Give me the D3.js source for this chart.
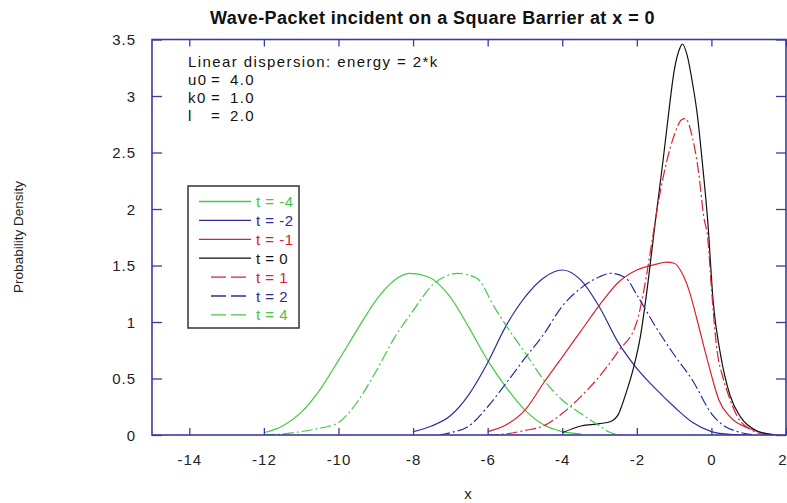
<!DOCTYPE html>
<html>
<head>
<meta charset="utf-8">
<script src="https://cdn.jsdelivr.net/npm/d3@7"></script>
<style>
  html, body { margin: 0; padding: 0; background: #fff; }
  svg { display: block; font-family: "Liberation Sans", Arial, sans-serif; }
</style>
</head>
<body>
<svg id="chart" width="787" height="503"></svg>
<script>
// Probability density snapshots of a wave packet hitting a square barrier at x = 0.
// Each series is a list of [x, density] samples.
const seriesLabels = ["t = -4", "t = -2", "t = -1", "t = 0", "t = 1", "t = 2", "t = 4"];
const seriesColors = ["#44c844", "#2c2c9c", "#dc2030", "#111111", "#dc2030", "#2c2c9c", "#44c844"];
const seriesDashed = [false, false, false, false, true, true, true];

const tMinus4 = [[-12.0,0.02],[-11.5,0.08],[-11.0,0.20],[-10.5,0.40],[-10.0,0.66],[-9.5,0.93],[-9.0,1.19],[-8.5,1.37],[-8.1,1.43],[-7.6,1.40],[-7.0,1.22],[-6.5,0.95],[-6.0,0.66],[-5.5,0.42],[-5.0,0.22],[-4.5,0.09],[-4.0,0.03],[-3.5,0.01]];
const tMinus2 = [[-8.0,0.03],[-7.5,0.08],[-7.0,0.17],[-6.5,0.36],[-6.0,0.64],[-5.5,0.97],[-5.0,1.22],[-4.5,1.39],[-4.0,1.46],[-3.5,1.37],[-3.0,1.13],[-2.5,0.82],[-2.0,0.59],[-1.5,0.41],[-1.0,0.25],[-0.5,0.11],[0.0,0.03],[0.5,0.005],[1.0,0.0]];
const tMinus1 = [[-6.0,0.03],[-5.5,0.09],[-5.0,0.22],[-4.5,0.46],[-4.0,0.69],[-3.5,0.92],[-3.0,1.15],[-2.5,1.35],[-2.0,1.46],[-1.5,1.51],[-1.2,1.53],[-1.0,1.52],[-0.8,1.44],[-0.6,1.28],[-0.4,1.04],[-0.2,0.78],[0.0,0.53],[0.2,0.31],[0.5,0.16],[1.0,0.06],[1.5,0.01],[1.8,0.0]];
const tZero   = [[-4.0,0.02],[-3.5,0.08],[-3.0,0.10],[-2.7,0.12],[-2.5,0.18],[-2.3,0.36],[-2.1,0.58],[-1.9,0.88],[-1.7,1.35],[-1.5,1.90],[-1.3,2.42],[-1.15,2.84],[-1.0,3.22],[-0.85,3.42],[-0.78,3.46],[-0.65,3.36],[-0.5,3.10],[-0.38,2.84],[-0.24,2.40],[-0.1,1.90],[0.05,1.17],[0.24,0.72],[0.5,0.35],[0.78,0.16],[1.2,0.04],[1.7,0.0]];
const tPlus1  = [[-6.0,0.0],[-5.5,0.01],[-5.0,0.04],[-4.5,0.08],[-4.0,0.19],[-3.5,0.34],[-3.0,0.52],[-2.5,0.74],[-2.0,1.0],[-1.8,1.3],[-1.6,1.7],[-1.4,2.1],[-1.2,2.42],[-1.0,2.65],[-0.8,2.79],[-0.7,2.80],[-0.5,2.62],[-0.35,2.34],[-0.2,1.92],[-0.1,1.75],[0.0,1.3],[0.15,0.75],[0.3,0.52],[0.45,0.36],[0.7,0.16],[1.1,0.04],[1.5,0.0]];
const tPlus2  = [[-7.3,0.0],[-7.0,0.02],[-6.5,0.08],[-6.0,0.25],[-5.5,0.46],[-5.0,0.68],[-4.5,0.89],[-4.0,1.14],[-3.5,1.30],[-3.0,1.40],[-2.7,1.43],[-2.3,1.39],[-2.0,1.24],[-1.5,0.96],[-1.0,0.71],[-0.5,0.48],[0.0,0.19],[0.3,0.09],[0.7,0.03],[1.2,0.0]];
const tPlus4  = [[-12.0,0.0],[-11.5,0.01],[-11.0,0.03],[-10.5,0.06],[-10.0,0.11],[-9.5,0.29],[-9.0,0.56],[-8.5,0.86],[-8.0,1.10],[-7.5,1.32],[-7.0,1.42],[-6.8,1.43],[-6.3,1.39],[-5.8,1.12],[-5.3,0.87],[-5.0,0.73],[-4.5,0.49],[-4.0,0.31],[-3.5,0.19],[-3.0,0.08],[-2.7,0.02],[-2.4,0.0]];

const seriesData = [tMinus4, tMinus2, tMinus1, tZero, tPlus1, tPlus2, tPlus4];

const xTicks = [-14, -12, -10, -8, -6, -4, -2, 0, 2];
const yTicks = [0, 0.5, 1, 1.5, 2, 2.5, 3, 3.5];

const titleText = "Wave-Packet incident on a Square Barrier at x = 0";
const xLabel = "x";
const yLabel = "Probability Density";
const noteHeader = "Linear dispersion: energy = 2*k";
const noteNames = ["u0", "k0", "l"];
const noteValues = ["4.0", "1.0", "2.0"];

const frameColor = "#3a3aa8";
const textColor = "#222";

const svg = d3.select("#chart");

const x = d3.scaleLinear().domain([-15, 2]).range([152, 786]);
const y = d3.scaleLinear().domain([0, 3.5]).range([435, 39.5]);

// Title
svg.append("text")
  .attr("x", 210).attr("y", 24)
  .attr("font-size", 18).attr("font-weight", "bold")
  .attr("letter-spacing", 0.45)
  .attr("fill", "#111")
  .text(titleText);

// Clip region for curves
svg.append("defs").append("clipPath").attr("id", "plotClip")
  .append("rect")
  .attr("x", x.range()[0]).attr("y", y.range()[1])
  .attr("width", x.range()[1] - x.range()[0])
  .attr("height", y.range()[0] - y.range()[1]);

// Curves
const line = d3.line()
  .x(d => x(d[0]))
  .y(d => y(d[1]))
  .curve(d3.curveMonotoneX);

svg.append("g").attr("clip-path", "url(#plotClip)")
  .selectAll("path")
  .data(seriesData)
  .join("path")
  .attr("d", line)
  .attr("fill", "none")
  .attr("stroke", (d, i) => seriesColors[i])
  .attr("stroke-width", 1.2)
  .attr("stroke-dasharray", (d, i) => seriesDashed[i] ? "11,3,2,3" : null);

// Axes: inward ticks on all four sides
const axisStyle = g => {
  g.select(".domain").remove();
  g.selectAll(".tick line").attr("stroke", frameColor).attr("stroke-width", 1.3);
};

const gBottom = svg.append("g")
  .attr("transform", `translate(0,${y(0)})`)
  .call(d3.axisBottom(x).tickValues(xTicks).tickSize(-7).tickFormat(d => String(d)))
  .call(axisStyle);
gBottom.selectAll(".tick text")
  .attr("y", 30).attr("dy", null)
  .attr("font-size", 15).attr("letter-spacing", 1)
  .attr("font-family", "Liberation Sans, Arial, sans-serif")
  .attr("fill", textColor);
// keep the last label inside the page edge
gBottom.selectAll(".tick text").filter(d => d === xTicks[xTicks.length - 1])
  .attr("text-anchor", "end").attr("x", 1);

svg.append("g")
  .attr("transform", `translate(0,${y(3.5)})`)
  .call(d3.axisTop(x).tickValues(xTicks).tickSize(-7).tickFormat(""))
  .call(axisStyle);

const gLeft = svg.append("g")
  .attr("transform", `translate(${x(-15)},0)`)
  .call(d3.axisLeft(y).tickValues(yTicks).tickSize(-10).tickFormat(d => String(d)))
  .call(axisStyle);
gLeft.selectAll(".tick text")
  .attr("x", -16).attr("dy", 5)
  .attr("font-size", 15).attr("letter-spacing", 1)
  .attr("font-family", "Liberation Sans, Arial, sans-serif")
  .attr("fill", textColor);

svg.append("g")
  .attr("transform", `translate(${x(2)},0)`)
  .call(d3.axisRight(y).tickValues(yTicks).tickSize(-10).tickFormat(""))
  .call(axisStyle);

// Plot frame
svg.append("rect")
  .attr("x", x(-15)).attr("y", y(3.5))
  .attr("width", x(2) - x(-15)).attr("height", y(0) - y(3.5))
  .attr("fill", "none").attr("stroke", frameColor).attr("stroke-width", 1.6);

// Axis titles
svg.append("text")
  .attr("x", 468).attr("y", 499)
  .attr("text-anchor", "middle")
  .attr("font-size", 15).attr("fill", textColor)
  .text(xLabel);

svg.append("text")
  .attr("transform", "translate(23,237) rotate(-90)")
  .attr("text-anchor", "middle")
  .attr("font-size", 13.5).attr("fill", textColor)
  .text(yLabel);

// Parameter note
const note = svg.append("g").attr("font-size", 15).attr("fill", "#111").attr("letter-spacing", 1.4);
note.append("text").attr("x", 188).attr("y", 67).text(noteHeader);
noteNames.forEach((n, i) => {
  const yy = 85 + i * 17.8;
  note.append("text").attr("x", 188).attr("y", yy).text(n);
  note.append("text").attr("x", 211).attr("y", yy).text("=");
  note.append("text").attr("x", 230).attr("y", yy).text(noteValues[i]);
});

// Legend
const legend = svg.append("g");
legend.append("rect")
  .attr("x", 188).attr("y", 186).attr("width", 111).attr("height", 142)
  .attr("fill", "#fff").attr("stroke", "#333").attr("stroke-width", 1.5);

const rows = legend.selectAll("g.row")
  .data(seriesLabels)
  .join("g")
  .attr("class", "row")
  .attr("transform", (d, i) => `translate(0,${201.5 + i * 18.9})`);

rows.append("line")
  .attr("x1", (d, i) => seriesDashed[i] ? 211 : 199)
  .attr("x2", 251)
  .attr("y1", 0).attr("y2", 0)
  .attr("stroke", (d, i) => seriesColors[i])
  .attr("stroke-width", 1.3)
  .attr("stroke-dasharray", (d, i) => seriesDashed[i] ? "15,5" : null);

rows.append("text")
  .attr("x", 256).attr("y", 5.5)
  .attr("font-size", 15).attr("letter-spacing", 0.5)
  .attr("fill", (d, i) => seriesColors[i])
  .text(d => d);
</script>
</body>
</html>
